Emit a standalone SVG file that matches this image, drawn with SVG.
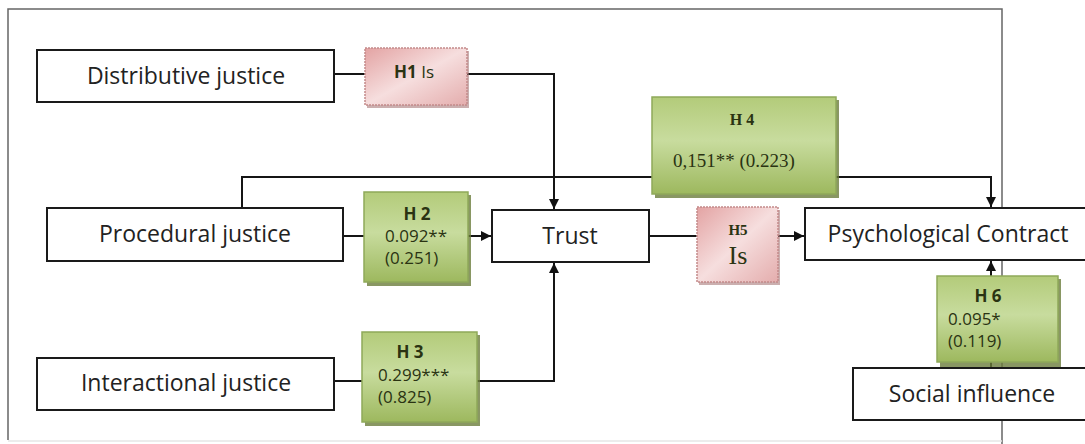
<svg xmlns="http://www.w3.org/2000/svg" width="1085" height="444" viewBox="0 0 1085 444">
<defs>
<linearGradient id="gGreen" x1="0" y1="0" x2="0" y2="1">
<stop offset="0" stop-color="#b3cb7a"/>
<stop offset="0.45" stop-color="#c8dc9e"/>
<stop offset="1" stop-color="#9db85e"/>
</linearGradient>
<linearGradient id="gPink" x1="0" y1="0" x2="1" y2="1">
<stop offset="0" stop-color="#e3a3a3"/>
<stop offset="0.5" stop-color="#f6dede"/>
<stop offset="1" stop-color="#e4adad"/>
</linearGradient>
<marker id="arr" viewBox="0 0 10 10" refX="10" refY="5" markerWidth="5" markerHeight="5" orient="auto" markerUnits="strokeWidth">
<path d="M0,0 L10,5 L0,10 z" fill="#111"/>
</marker>
</defs>
<style>
.node{fill:#fff;stroke:#1a1a1a;stroke-width:2}
.lbl{font-family:"Open Sans","Noto Sans",sans-serif;font-size:23px;fill:#222;text-anchor:middle}
.green{fill:url(#gGreen);stroke:#8fa95a;stroke-width:1.5}
.gshadow{fill:#6b7d3c;opacity:0.8}
.pink{fill:url(#gPink);stroke:#c48a8a;stroke-width:1.5;stroke-dasharray:2 1}
.pshadow{fill:#a87a7a;opacity:0.6}
.hs{font-family:"Open Sans","Noto Sans",sans-serif;font-size:17px;fill:#2a3312}
.hb{font-weight:bold}
.hser{font-family:"Liberation Serif","Times New Roman",serif;fill:#2a3312}
.conn{fill:none;stroke:#151515;stroke-width:2}
.frame{fill:none;stroke:#666;stroke-width:1.5}
</style>
<rect width="1085" height="444" fill="#fff"/>
<g id="frame">
<path class="frame" d="M8,440 L8,9 L1002,9 L1002,444"/>
<line x1="8" y1="441" x2="1002" y2="441" stroke="#e6e6e6" stroke-width="1.5"/>
</g>
<g id="connectors">
<line class="conn" x1="334" y1="74" x2="365" y2="74"/>
<path class="conn" d="M467,74 L554,74 L554,209" marker-end="url(#arr)"/>
<path class="conn" d="M242,208 L242,177 L652,177"/>
<path class="conn" d="M836,177 L991,177 L991,207" marker-end="url(#arr)"/>
<line class="conn" x1="343" y1="236" x2="364" y2="236"/>
<line class="conn" x1="468" y1="236" x2="491" y2="236" marker-end="url(#arr)"/>
<line class="conn" x1="649" y1="236" x2="697" y2="236"/>
<line class="conn" x1="778" y1="236" x2="804" y2="236" marker-end="url(#arr)"/>
<line class="conn" x1="991" y1="276" x2="991" y2="261" marker-end="url(#arr)"/>
<line class="conn" x1="991" y1="362" x2="991" y2="368"/>
<line class="conn" x1="334" y1="381" x2="362" y2="381"/>
<path class="conn" d="M477,381 L554,381 L554,263" marker-end="url(#arr)"/>
</g>
<g id="distributive">
<rect class="node" x="37" y="50" width="297" height="52"/>
<text class="lbl" x="186" y="84">Distributive justice</text>
</g>
<g id="procedural">
<rect class="node" x="47" y="208" width="296" height="53"/>
<text class="lbl" x="195" y="242">Procedural justice</text>
</g>
<g id="interactional">
<rect class="node" x="37" y="358" width="297" height="52"/>
<text class="lbl" x="186" y="391">Interactional justice</text>
</g>
<g id="trust">
<rect class="node" x="492" y="210" width="157" height="52"/>
<text class="lbl" x="570" y="244">Trust</text>
</g>
<g id="psych">
<rect class="node" x="805" y="208" width="290" height="52"/>
<text class="lbl" x="948" y="242">Psychological Contract</text>
</g>
<g id="social">
<rect class="node" x="853" y="368" width="242" height="52"/>
<text class="lbl" x="972" y="402">Social influence</text>
</g>
<g id="h1">
<rect class="pshadow" x="367" y="51" width="102" height="57"/>
<rect class="pink" x="365" y="48" width="102" height="57"/>
<text class="hs" x="414" y="78" text-anchor="middle" font-size="14.5"><tspan class="hb">H1</tspan> Is</text>
</g>
<g id="h2">
<rect class="gshadow" x="367" y="195" width="104" height="91"/>
<rect class="green" x="364" y="192" width="104" height="90"/>
<text class="hs hb" x="417" y="220" text-anchor="middle" font-size="16">H 2</text>
<text class="hs" x="385" y="242">0.092**</text>
<text class="hs" x="385" y="264">(0.251)</text>
</g>
<g id="h3">
<rect class="gshadow" x="365" y="335" width="115" height="91"/>
<rect class="green" x="362" y="332" width="115" height="90"/>
<text class="hs hb" x="410" y="358" text-anchor="middle" font-size="16">H 3</text>
<text class="hs" x="378" y="381">0.299***</text>
<text class="hs" x="378" y="403">(0.825)</text>
</g>
<g id="h4">
<rect class="gshadow" x="655" y="100" width="184" height="98"/>
<rect class="green" x="652" y="97" width="184" height="97"/>
<text class="hser hb" x="742" y="125" font-size="16" text-anchor="middle">H 4</text>
<text class="hser" x="734" y="167" font-size="19" text-anchor="middle">0,151** (0.223)</text>
</g>
<g id="h5">
<rect class="pshadow" x="699" y="210" width="81" height="75"/>
<rect class="pink" x="697" y="207" width="81" height="75"/>
<text class="hser hb" x="738" y="235" font-size="15" text-anchor="middle">H5</text>
<text class="hser" x="738" y="264" font-size="26" text-anchor="middle">Is</text>
</g>
<g id="h6">
<rect class="gshadow" x="940" y="279" width="121" height="88"/>
<rect class="green" x="937" y="276" width="121" height="86"/>
<text class="hs hb" x="988" y="302" text-anchor="middle" font-size="16">H 6</text>
<text class="hs" x="948" y="325">0.095*</text>
<text class="hs" x="948" y="347">(0.119)</text>
</g>
</svg>
